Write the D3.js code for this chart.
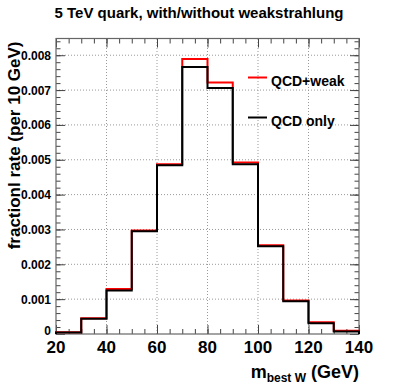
<!DOCTYPE html>
<html><head><meta charset="utf-8">
<script src="https://cdn.jsdelivr.net/npm/d3@7"></script>
<style>body{margin:0;background:#fff}svg{display:block}text{font-family:"Liberation Sans",Arial,sans-serif;font-weight:bold}</style>
</head><body><svg id="c" width="399" height="385"></svg>
<script>
const binEdges = [20,30,40,50,60,70,80,90,100,110,120,130,140];
const qcdWeak = [0.00005,0.00045,0.00129,0.00297,0.00487,0.00789,0.00722,0.00492,0.00255,0.00096,0.00034,0.00009];
const qcdOnly = [0.00004,0.00044,0.00125,0.00295,0.00484,0.00766,0.00706,0.00487,0.00252,0.00094,0.00031,0.00007];
const xTicks = [20,40,60,80,100,120,140];
const yTicks = [0,0.001,0.002,0.003,0.004,0.005,0.006,0.007,0.008];
const yTickLabels = ["0","0.001","0.002","0.003","0.004","0.005","0.006","0.007","0.008"];
const seriesNames = ["QCD+weak","QCD only"];
const seriesColors = ["#ff0000","#000000"];

const svg = d3.select("#c");
const L=56,R=359,T=38.5,B=334;
const x = d3.scaleLinear().domain([20,140]).range([L,R]);
const y = d3.scaleLinear().domain([0,0.00848]).range([B,T]);

// grid
const g = svg.append("g");
g.selectAll(".gx").data(xTicks.slice(1,-1)).enter().append("line")
 .attr("x1",d=>x(d)).attr("x2",d=>x(d)).attr("y1",B).attr("y2",T)
 .attr("stroke","#999").attr("stroke-width",1).attr("stroke-dasharray","1,2");
g.selectAll(".gy").data(yTicks.slice(1)).enter().append("line")
 .attr("x1",L).attr("x2",R).attr("y1",d=>y(d)).attr("y2",d=>y(d))
 .attr("stroke","#999").attr("stroke-width",1).attr("stroke-dasharray","1,2");

// axes
const xMinor = d3.range(20,141,5);
const yMinor = d3.range(0,0.00841,0.0002);
const tickCol="#444";
function xt(pos,dir){
  svg.append("g").attr("transform",`translate(0,${pos})`)
   .call(d3.axisBottom(x).tickValues(xMinor).tickSize(dir*5).tickFormat(""))
   .call(a=>{a.select(".domain").remove();a.selectAll("line").attr("stroke",tickCol);});
  svg.append("g").attr("transform",`translate(0,${pos})`)
   .call(d3.axisBottom(x).tickValues(xTicks).tickSize(dir*9).tickFormat(""))
   .call(a=>{a.select(".domain").remove();a.selectAll("line").attr("stroke",tickCol);});
}
xt(B,-1); xt(T,1);
function yt(pos,dir){
  svg.append("g").attr("transform",`translate(${pos},0)`)
   .call(d3.axisLeft(y).tickValues(yMinor).tickSize(dir*4.5).tickFormat(""))
   .call(a=>{a.select(".domain").remove();a.selectAll("line").attr("stroke",tickCol);});
  svg.append("g").attr("transform",`translate(${pos},0)`)
   .call(d3.axisLeft(y).tickValues(yTicks).tickSize(dir*9).tickFormat(""))
   .call(a=>{a.select(".domain").remove();a.selectAll("line").attr("stroke",tickCol);});
}
yt(L,-1); yt(R,1);
svg.append("rect").attr("x",L).attr("y",T).attr("width",R-L).attr("height",B-T)
 .attr("fill","none").attr("stroke","#666").attr("stroke-width",1.2);

// tick labels
svg.selectAll(".xl").data(xTicks).enter().append("text")
 .attr("x",d=>x(d)).attr("y",B+19).attr("text-anchor","middle").attr("font-size",17).text(d=>d);
svg.selectAll(".yl").data(yTicks).enter().append("text")
 .attr("x",L-5).attr("y",(d,i)=>y(d)+(i===0?1:4.5)).attr("text-anchor","end").attr("font-size",12)
 .text((d,i)=>yTickLabels[i]);

// histograms
function stepPath(vals){
  const pts=[[binEdges[0],0]];
  vals.forEach((v,i)=>{pts.push([binEdges[i],v]);pts.push([binEdges[i+1],v]);});
  pts.push([binEdges[binEdges.length-1],0]);
  return d3.line().x(d=>x(d[0])).y(d=>y(d[1]))(pts);
}
[qcdWeak,qcdOnly].forEach((s,i)=>{
  svg.append("path").attr("d",stepPath(s)).attr("fill","none")
   .attr("stroke",seriesColors[i]).attr("stroke-width",2);
});

// legend
const legY=[77.5,117.5];
seriesNames.forEach((n,i)=>{
  svg.append("line").attr("x1",248).attr("x2",267).attr("y1",legY[i]).attr("y2",legY[i])
   .attr("stroke",seriesColors[i]).attr("stroke-width",2);
  svg.append("text").attr("x",271).attr("y",legY[i]+8.5).attr("font-size",14).text(n);
});

// titles
svg.append("text").attr("x",199).attr("y",18).attr("text-anchor","middle").attr("font-size",15)
 .text("5 TeV quark, with/without weakstrahlung");
const xl = svg.append("text").attr("x",R).attr("y",378).attr("text-anchor","end").attr("font-size",18);
xl.append("tspan").text("m");
xl.append("tspan").attr("font-size",12).attr("dy",4).text("best W");
xl.append("tspan").attr("dy",-4).text(" (GeV)");
svg.append("text").attr("transform",`translate(19.5,${T+3}) rotate(-90)`).attr("text-anchor","end")
 .attr("font-size",17).text("fractionl rate (per 10 GeV)");
</script></body></html>
